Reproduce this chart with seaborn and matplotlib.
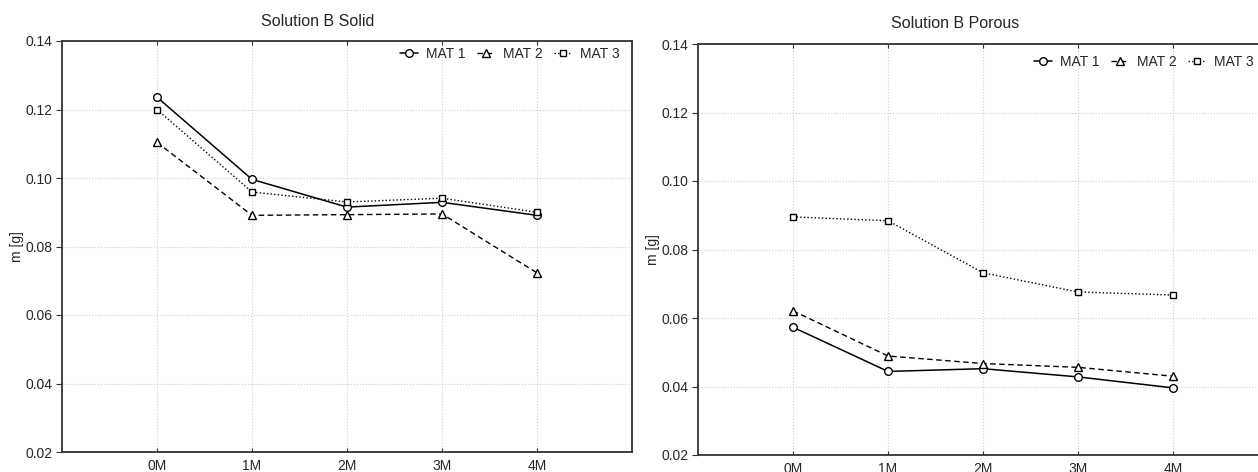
import numpy as np
import pandas as pd
import seaborn as sns
import matplotlib.pyplot as plt

# datos
meses = ['0M', '1M', '2M', '3M', '4M']
solid_mat1 = [0.1236, 0.0996, 0.0915, 0.0929, 0.0891]
solid_mat2 = [0.1104, 0.0891, 0.0893, 0.0895, 0.0723]
solid_mat3 = [0.1200, 0.0959, 0.0930, 0.0941, 0.0900]
porous_mat1 = [0.0573, 0.0444, 0.0452, 0.0428, 0.0396]
porous_mat2 = [0.0621, 0.0489, 0.0467, 0.0456, 0.0430]
porous_mat3 = [0.0895, 0.0884, 0.0732, 0.0676, 0.0667]
yticks = [0.02, 0.04, 0.06, 0.08, 0.10, 0.12, 0.14]

sns.set_style('white')
plt.rcParams['font.family'] = ['Liberation Sans', 'DejaVu Sans']

W, H = 1258, 472
fig = plt.figure(figsize=(W / 100, H / 100), dpi=100)

# posiciones en pixeles: (izq, der, arriba, abajo)
paneles = [
    ('Solution B Solid', [solid_mat1, solid_mat2, solid_mat3], (62, 632, 41, 452), (318, 21), (620, 47)),
    ('Solution B Porous', [porous_mat1, porous_mat2, porous_mat3], (698, 1268, 44, 455), (955, 24), (1254, 55)),
]
estilos = [('MAT 1', '-', 'o'), ('MAT 2', (0, (4, 2.5)), '^'), ('MAT 3', (0, (1, 1.6)), 's')]

for titulo, series, (x0, x1, y0, y1), (tx, ty), (lx, ly) in paneles:
    ax = fig.add_axes([x0 / W, 1 - y1 / H, (x1 - x0) / W, (y1 - y0) / H])
    pos = np.arange(len(meses))
    for (nombre, ls, mk), valores in zip(estilos, series):
        sns.lineplot(x=pos, y=valores, ax=ax, color='black',
                     linewidth=1.1 if mk == 'o' else 1.0,
                     linestyle=ls, marker=mk, markersize=5.5 if mk != 's' else 5,
                     markerfacecolor='white', markeredgecolor='black',
                     markeredgewidth=1.0, label=nombre)
    ax.set_xlim(-1, 5)
    ax.set_ylim(0.02, 0.14)
    ax.set_xticks(pos)
    ax.set_xticklabels(meses)
    ax.set_yticks(yticks)
    ax.set_yticklabels([f'{v:.2f}' for v in yticks])
    ax.grid(True, color='#cfcfcf', linestyle=':', linewidth=0.8)
    ax.tick_params(axis='x', direction='in', top=True, bottom=True, length=3,
                   labelsize=10, pad=5, color='#333333')
    ax.tick_params(axis='y', direction='out', left=True, length=4, labelsize=10,
                   pad=3, color='#333333')
    for s in ax.spines.values():
        s.set_color('#333333')
        s.set_linewidth(1.3)
    ax.set_xlabel('')
    ax.set_ylabel('m [g]', fontsize=10, labelpad=1)
    ax.legend(loc='upper right', bbox_to_anchor=(lx / W, 1 - ly / H),
              bbox_transform=fig.transFigure, ncol=3, frameon=False, fontsize=10,
              handlelength=1.3, handletextpad=0.6, columnspacing=0.8,
              borderaxespad=0, borderpad=0)
    fig.text(tx / W, 1 - ty / H, titulo, ha='center', va='center', fontsize=11.5)

fig.savefig('out.png', dpi=100)
